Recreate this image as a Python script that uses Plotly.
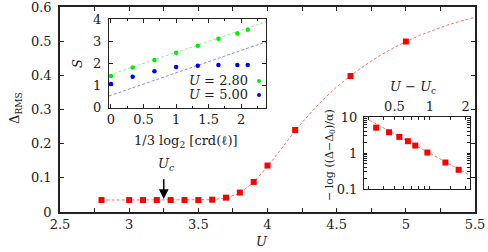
import plotly.graph_objects as go

# ---------------- data ----------------
U_main = [2.8, 3.0, 3.1, 3.2, 3.3, 3.4, 3.5, 3.6, 3.7, 3.8, 3.9, 4.0, 4.2, 4.6, 5.0]
D_main = [0.035, 0.035, 0.035, 0.035, 0.035, 0.035, 0.035, 0.036, 0.042, 0.057, 0.088, 0.136, 0.240, 0.398, 0.499]

U_fit = [2.8, 2.9, 3.0, 3.1, 3.2, 3.3, 3.4, 3.5, 3.6, 3.7, 3.8, 3.9, 4.0, 4.1, 4.2, 4.3, 4.4,
         4.5, 4.6, 4.7, 4.8, 4.9, 5.0, 5.1, 5.2, 5.3, 5.4, 5.5]
D_fit = [0.035, 0.035, 0.035, 0.035, 0.035, 0.035, 0.035, 0.035, 0.036, 0.041, 0.055, 0.087,
         0.133, 0.185, 0.238, 0.285, 0.328, 0.366, 0.399, 0.428, 0.455, 0.478, 0.499, 0.517,
         0.533, 0.547, 0.559, 0.570]

U_c = 3.25

# inset 1 : entanglement entropy
L_vals = [0.0, 0.333, 0.667, 1.0, 1.333, 1.65, 1.94, 2.10]
S_U280 = [1.43, 1.81, 2.15, 2.48, 2.79, 3.11, 3.35, 3.51]
S_U500 = [1.07, 1.40, 1.64, 1.83, 1.89, 1.92, 1.92, 1.92]
L_line = [-0.03, 2.38]
S_line280 = [1.47, 3.87]
S_line500 = [0.53, 2.97]

# inset 2 : log-log scaling
dU = [0.35, 0.45, 0.55, 0.65, 0.75, 0.95, 1.35, 1.75]
logD = [5.06, 3.77, 2.80, 2.13, 1.61, 1.03, 0.544, 0.342]
dU_fit = [0.28, 2.18]
logD_fit = [9.6, 0.24]

# ---------------- layout helpers ----------------
W, H = 488, 252
def fx(p): return p / W
def fy(p): return 1 - p / H

FONT = "DejaVu Serif, Liberation Serif, serif"
fs = 13
tfont = dict(family=FONT, size=fs, color="#222")

fig = go.Figure()

# main
fig.add_trace(go.Scatter(x=U_fit, y=D_fit, mode="lines",
                         line=dict(color="#ff7070", width=1, dash="3px,2px"),
                         xaxis="x", yaxis="y", showlegend=False, hoverinfo="skip"))
fig.add_trace(go.Scatter(x=U_main, y=D_main, mode="markers",
                         marker=dict(symbol="square", size=6, color="#ff0000"),
                         xaxis="x", yaxis="y", showlegend=False))

# inset 1
fig.add_trace(go.Scatter(x=L_line, y=S_line280, mode="lines",
                         line=dict(color="#90ee90", width=1, dash="3px,2px"),
                         xaxis="x2", yaxis="y2", showlegend=False))
fig.add_trace(go.Scatter(x=L_line, y=S_line500, mode="lines",
                         line=dict(color="#8888ff", width=1, dash="3px,2px"),
                         xaxis="x2", yaxis="y2", showlegend=False))
fig.add_trace(go.Scatter(x=L_vals, y=S_U280, mode="markers",
                         marker=dict(size=4.5, color="#00ee00"),
                         xaxis="x2", yaxis="y2", showlegend=False))
fig.add_trace(go.Scatter(x=L_vals, y=S_U500, mode="markers",
                         marker=dict(size=4.5, color="#0000ff"),
                         xaxis="x2", yaxis="y2", showlegend=False))

# inset 2
fig.add_trace(go.Scatter(x=dU_fit, y=logD_fit, mode="lines",
                         line=dict(color="#ff7070", width=1, dash="3px,2px"),
                         xaxis="x3", yaxis="y3", showlegend=False))
fig.add_trace(go.Scatter(x=dU, y=logD, mode="markers",
                         marker=dict(symbol="square", size=6, color="#ff0000"),
                         xaxis="x3", yaxis="y3", showlegend=False))

axcommon = dict(showgrid=False, zeroline=False, showline=True, linecolor="#222",
                ticks="inside", tickcolor="#222", tickfont=tfont, mirror="ticks",
                automargin=False, ticklabeloverflow="allow")

fig.update_layout(
    template="none",
    font=dict(family=FONT),
    width=W, height=H, margin=dict(l=0, r=0, t=0, b=0, pad=0), autosize=False,
    paper_bgcolor="white", plot_bgcolor="rgba(0,0,0,0)",
    xaxis=dict(axcommon, domain=[fx(60), fx(475)], range=[2.5, 5.5], dtick=0.5,
               ticklen=4, linewidth=1.5,
               minor=dict(dtick=0.25, ticks="inside", ticklen=4, tickcolor="#222"),
               anchor="y"),
    yaxis=dict(axcommon, domain=[fy(212), fy(7)], range=[0, 0.6], dtick=0.1,
               ticklen=4, linewidth=1.5, anchor="x", ticklabelstandoff=4),
    xaxis2=dict(axcommon, domain=[fx(109), fx(266)], range=[-0.03, 2.38], dtick=0.5,
                ticklen=4, linewidth=1, anchor="y2",
                minor=dict(dtick=0.25, ticks="inside", ticklen=2, tickcolor="#222")),
    yaxis2=dict(axcommon, domain=[fy(107.7), fy(19)], range=[0, 4], dtick=1,
                ticklen=4, linewidth=1, anchor="x2", ticklabelstandoff=4),
    xaxis3=dict(axcommon, domain=[fx(364), fx(470)], type="log",
                range=[-0.559, 0.339], side="top",
                tickvals=[0.3, 0.4, 0.5, 0.6, 0.7, 0.8, 0.9, 1, 1.5, 2],
                ticktext=["", "", "0.5", "", "", "", "", "1", "", "2"],
                ticklen=3, linewidth=1, anchor="y3"),
    yaxis3=dict(axcommon, domain=[fy(189), fy(117)], type="log", range=[-1, 1],
                tickvals=[0.1, 0.2, 0.3, 0.4, 0.5, 0.6, 0.7, 0.8, 0.9,
                          1, 2, 3, 4, 5, 6, 7, 8, 9, 10],
                ticktext=["0.1"] + [""] * 8 + ["1"] + [""] * 8 + ["10"],
                ticklen=3, linewidth=1, anchor="x3", ticklabelstandoff=3),
)

ann = [
    dict(x=fx(262), y=fy(241), text="<i>U</i>"),
    dict(x=fx(15), y=fy(108), text="Δ<sub>RMS</sub>", textangle=-90),
    dict(x=fx(77), y=fy(64), text="<i>S</i>", textangle=-90),
    dict(x=fx(186), y=fy(141), text="1/3 log<sub>2</sub> [crd(ℓ)]"),
    dict(x=fx(250), y=fy(80), text="<i>U</i> = 2.80", xanchor="right"),
    dict(x=fx(250), y=fy(94), text="<i>U</i> = 5.00", xanchor="right"),
    dict(x=fx(413), y=fy(87), text="<i>U</i> − <i>U</i><sub>c</sub>"),
    dict(x=fx(330), y=fy(155), text="− log ((Δ−Δ<sub>0</sub>)/α)", textangle=-90,
         font=dict(family=FONT, size=11, color="#222")),
    dict(x=fx(166), y=fy(164), text="<i>U<sub>c</sub></i>"),
]
for a in ann:
    a.setdefault("font", tfont)
    a.setdefault("xanchor", "center")
    a.setdefault("yanchor", "middle")
    fig.add_annotation(xref="paper", yref="paper", showarrow=False, **a)

# U_c arrow
fig.add_annotation(x=U_c, y=0.038, xref="x", yref="y", ax=U_c, ay=0.1,
                   axref="x", ayref="y", showarrow=True, arrowhead=2,
                   arrowsize=1.3, arrowwidth=1.5, arrowcolor="black", text="")

# legend keys for inset 1
for yy, col in [(81, "#00ee00"), (95, "#0000ff")]:
    fig.add_shape(type="circle", xref="paper", yref="paper",
                  x0=fx(257), x1=fx(261), y0=fy(yy + 2), y1=fy(yy - 2),
                  fillcolor=col, line=dict(width=0))

fig.write_html("out.html", config={"displayModeBar": False},
               post_script="document.body.style.margin='0';document.body.style.overflow='hidden';")
